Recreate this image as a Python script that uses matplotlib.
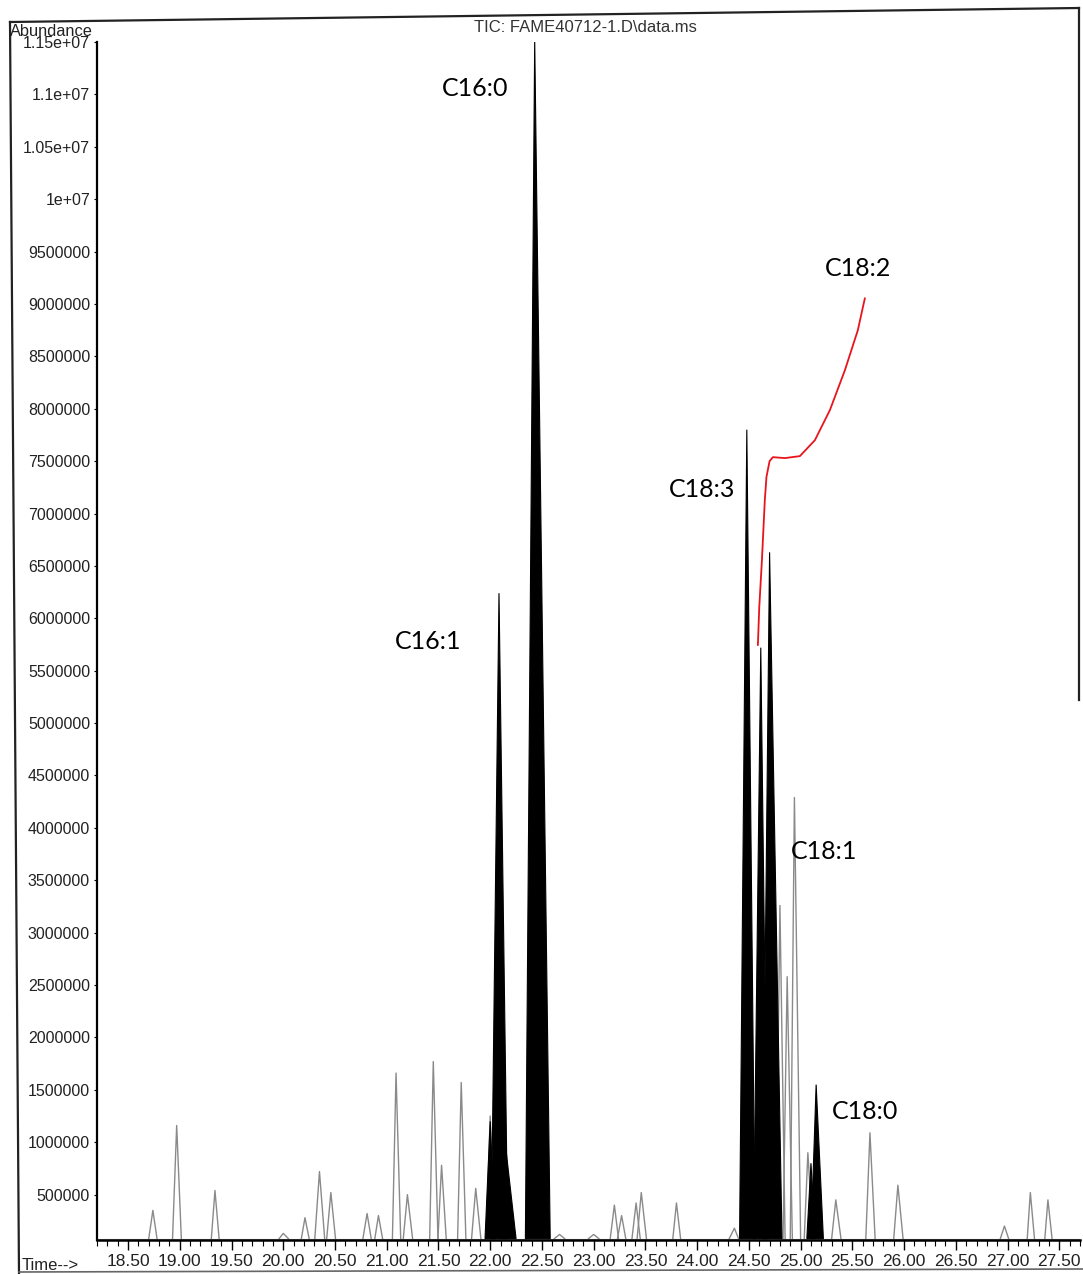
import matplotlib
matplotlib.use("Agg")
import matplotlib.pyplot as plt
from matplotlib.ticker import MultipleLocator, FixedLocator

plt.rcParams['font.family'] = ['Liberation Sans', 'DejaVu Sans']

# ---------------- data ----------------
title = r"TIC: FAME40712-1.D\data.ms"
baseline = 80000

# minor (grey) peaks: retention time (min), apex abundance, left/right half-width (min)
grey_rt = [18.74, 18.97, 19.34, 20.00, 20.21, 20.35, 20.46, 20.81, 20.92, 21.09,
           21.20, 21.45, 21.53, 21.72, 21.86, 22.00, 22.67, 23.00, 23.20, 23.27,
           23.41, 23.46, 23.80, 24.36, 24.80, 24.87, 24.94, 25.07, 25.34, 25.67,
           25.94, 26.97, 27.22, 27.39]
grey_height = [0.35e6, 1.16e6, 0.54e6, 0.13e6, 0.28e6, 0.72e6, 0.52e6, 0.32e6, 0.30e6, 1.66e6,
               0.50e6, 1.77e6, 0.78e6, 1.57e6, 0.56e6, 1.25e6, 0.12e6, 0.12e6, 0.40e6, 0.30e6,
               0.42e6, 0.52e6, 0.42e6, 0.18e6, 3.26e6, 2.58e6, 4.29e6, 0.90e6, 0.45e6, 1.09e6,
               0.59e6, 0.20e6, 0.52e6, 0.45e6]
grey_lw = [0.04, 0.04, 0.035, 0.04, 0.035, 0.045, 0.04, 0.04, 0.035, 0.035,
           0.04, 0.035, 0.035, 0.035, 0.04, 0.04, 0.05, 0.05, 0.04, 0.04,
           0.04, 0.04, 0.035, 0.05, 0.04, 0.04, 0.04, 0.035, 0.04, 0.04,
           0.04, 0.04, 0.03, 0.03]
grey_rw = [0.04, 0.045, 0.04, 0.05, 0.04, 0.05, 0.045, 0.04, 0.04, 0.045,
           0.05, 0.045, 0.045, 0.045, 0.05, 0.04, 0.05, 0.05, 0.04, 0.04,
           0.04, 0.05, 0.04, 0.04, 0.05, 0.05, 0.06, 0.05, 0.05, 0.05,
           0.05, 0.04, 0.04, 0.04]

# integrated (black) peaks: retention time, apex abundance, left/right half-width
black_rt = [22.00, 22.085, 22.15, 22.43, 24.48, 24.615, 24.70, 25.10, 25.15]
black_height = [1.20e6, 6.24e6, 0.95e6, 11.52e6, 7.80e6, 5.72e6, 6.63e6, 0.80e6, 1.55e6]
black_lw = [0.05, 0.075, 0.05, 0.09, 0.07, 0.07, 0.07, 0.04, 0.05]
black_rw = [0.05, 0.085, 0.10, 0.15, 0.08, 0.07, 0.12, 0.04, 0.07]

# peak labels
label_text = ["C16:0", "C16:1", "C18:2", "C18:3", "C18:1", "C18:0"]
label_t = [21.853, 21.399, 25.553, 24.046, 25.225, 25.621]
label_v = [11.06e6, 5.78e6, 9.34e6, 7.23e6, 3.77e6, 1.29e6]

# hand-drawn red leader line for C18:2
leader_t = [24.587, 24.600, 24.626, 24.654, 24.670, 24.700, 24.732, 24.848, 24.993, 25.138,
            25.283, 25.428, 25.553, 25.621]
leader_v = [5.744e6, 6.10e6, 6.555e6, 7.128e6, 7.35e6, 7.50e6, 7.538e6, 7.529e6, 7.548e6, 7.700e6,
            7.987e6, 8.368e6, 8.750e6, 9.055e6]

# axis ticks
ytick_vals = [500000 * k for k in range(1, 24)]
ytick_labels = [str(v) for v in ytick_vals[:19]] + ["1e+07", "1.05e+07", "1.1e+07", "1.15e+07"]
xtick_vals = [18.5 + 0.5 * k for k in range(19)]
xtick_labels = ["%.2f" % v for v in xtick_vals]

# ---------------- figure ----------------
W, H = 1083, 1274
fig = plt.figure(figsize=(W / 100, H / 100), dpi=100)
ax = fig.add_axes([97 / W, 1 - 1240 / H, (1080 - 97) / W, (1240 - 42) / H])

ax.set_xlim(18.20, 27.70)
ax.set_ylim(67000, 11.5e6)

# baseline
ax.plot([18.20, 27.70], [baseline, baseline], color="#a0a0a0", lw=0.8, zorder=1)

for t, h, lw_, rw_ in zip(grey_rt, grey_height, grey_lw, grey_rw):
    ax.plot([t - lw_, t, t + rw_], [baseline, h, baseline], color="#8a8a8a", lw=1.0, zorder=2)

for t, h, lw_, rw_ in zip(black_rt, black_height, black_lw, black_rw):
    ax.fill([t - lw_, t, t + rw_], [baseline, h, baseline], color="black", lw=0.8, zorder=3)

for s, t, v in zip(label_text, label_t, label_v):
    ax.text(t, v, s, ha="center", va="center", fontsize=18, family=["Lato", "DejaVu Sans"],
            color="black", zorder=5)

ax.plot(leader_t, leader_v, color="#e8141c", lw=1.3, zorder=6, solid_capstyle="round")

# axes styling
for side in ["top", "right"]:
    ax.spines[side].set_visible(False)
ax.spines["left"].set_linewidth(1.6)
ax.spines["bottom"].set_linewidth(1.8)

ax.xaxis.set_major_locator(FixedLocator(xtick_vals))
ax.set_xticklabels(xtick_labels, fontsize=12.5, color="#222222")
ax.xaxis.set_minor_locator(MultipleLocator(0.1))
ax.tick_params(axis="x", which="major", direction="out", length=7, width=1.0, pad=3)
ax.tick_params(axis="x", which="minor", direction="out", length=4, width=0.8)

ax.yaxis.set_major_locator(FixedLocator(ytick_vals))
ax.set_yticklabels(ytick_labels, fontsize=11.5, color="#222222")
ax.tick_params(axis="y", which="major", direction="out", length=2, width=0.8, pad=3)

# header / axis texts in figure pixel positions
fig.text(585 / W, 1 - 28 / H, title, ha="center", va="center", fontsize=12, color="#333333")
fig.text(10 / W, 1 - 31 / H, "Abundance", ha="left", va="center", fontsize=11.8, color="#222222")
fig.text(22 / W, 1 - 1265 / H, "Time-->", ha="left", va="center", fontsize=12, color="#222222")

# scanned page frame (slightly skewed, as in the scan)
frame_kw = dict(color="#222222", lw=1.6, transform=fig.transFigure)
fig.add_artist(plt.Line2D([10 / W, 1079 / W], [1 - 22 / H, 1 - 8 / H], **frame_kw))
fig.add_artist(plt.Line2D([10 / W, 19 / W], [1 - 22 / H, 0.0], **frame_kw))
fig.add_artist(plt.Line2D([1079 / W, 1079 / W], [1 - 8 / H, 1 - 700 / H], **frame_kw))
fig.add_artist(plt.Line2D([19 / W, 1083 / W], [1 - 1272 / H, 1 - 1269 / H], color="#666666", lw=1.2,
                          transform=fig.transFigure))

fig.savefig("out.png", dpi=100)
